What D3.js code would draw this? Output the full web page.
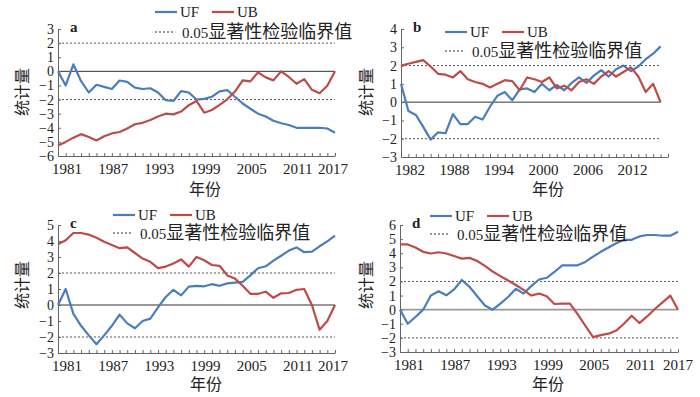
<!DOCTYPE html>
<html>
<head>
<meta charset="utf-8">
<script src="https://cdn.jsdelivr.net/npm/d3@7"></script>
<style>
  body { margin: 0; background: #fff; }
  svg { display: block; }
  text { font-family: "Liberation Serif", "Noto Sans CJK SC", serif; fill: #222; }
</style>
</head>
<body>
<div id="chart"></div>
<script>
// years on the x axis
const yearsA = d3.range(1981, 2018)
const yearsB = d3.range(1982, 2018)
const tickYears = [1981, 1987, 1993, 1999, 2005, 2011, 2017]
const tickYearsB = [1982, 1988, 1994, 2000, 2006, 2012]
const critValues = [2, -2]

// panel a
const ufA = [0, -1.0, 0.5, -0.7, -1.5, -0.95, -1.1, -1.25, -0.65, -0.75, -1.15, -1.25, -1.2, -1.5, -2.05, -2.1, -1.4, -1.5, -2.0,
  -1.95, -1.8, -1.42, -1.33, -1.8, -2.28, -2.65, -3.0, -3.2, -3.5, -3.68, -3.8, -4.0, -4.0, -4.0, -4.0, -4.05, -4.35]
const ubA = [-5.25, -5.0, -4.7, -4.45, -4.65, -4.9, -4.6, -4.4, -4.3, -4.05, -3.75, -3.65, -3.45, -3.2, -3.0, -3.05, -2.85, -2.4, -2.1,
  -2.93, -2.74, -2.38, -1.98, -1.43, -0.64, -0.71, -0.07, -0.43, -0.64, 0, -0.4, -0.88, -0.55, -1.31, -1.55, -1.02, 0]

// panel b (1982-2017)
const ufB = [1.0, -0.48, -0.7, -1.35, -2.05, -1.65, -1.7, -0.65, -1.2, -1.2, -0.8, -0.95, -0.25, 0.35, 0.55, 0.1, 0.7, 0.75,
  0.55, 1.0, 0.65, 0.95, 0.65, 1.05, 1.35, 1.05, 1.45, 1.75, 1.4, 1.8, 2.0, 1.7, 1.95, 2.35, 2.65, 3.05]
const ubB = [2.0, 2.1, 2.2, 2.3, 1.95, 1.55, 1.5, 1.35, 1.7, 1.25, 1.1, 1.0, 0.8, 1.0, 1.2, 1.15, 0.65, 1.35,
  1.25, 1.1, 1.35, 0.75, 0.9, 0.65, 1.1, 1.25, 1.0, 1.4, 1.7, 1.4, 1.65, 1.9, 1.4, 0.55, 1.0, 0.0]

// panel c
const ufC = [0, 1.0, -0.55, -1.3, -1.9, -2.45, -1.9, -1.3, -0.6, -1.15, -1.45, -1.0, -0.85, -0.15, 0.5, 0.95, 0.6, 1.15, 1.2,
  1.17, 1.3, 1.2, 1.35, 1.4, 1.45, 1.85, 2.3, 2.42, 2.77, 3.08, 3.4, 3.6, 3.3, 3.33, 3.67, 3.98, 4.33]
const ubC = [3.8, 4.05, 4.5, 4.5, 4.4, 4.2, 3.95, 3.75, 3.55, 3.6, 3.25, 2.9, 2.7, 2.3, 2.4, 2.6, 2.85, 2.4, 3.0,
  2.8, 2.5, 2.45, 1.85, 1.65, 1.2, 0.7, 0.7, 0.83, 0.45, 0.73, 0.75, 0.95, 1.0, 0, -1.55, -1.0, 0]

// panel d
const ufD = [0, -1.0, -0.52, 0.0, 1.0, 1.3, 1.02, 1.43, 2.1, 1.62, 0.95, 0.29, 0.0, 0.43, 0.9, 1.48, 1.14, 1.67, 2.14,
  2.26, 2.67, 3.14, 3.14, 3.14, 3.38, 3.76, 4.1, 4.4, 4.71, 4.95, 4.95, 5.19, 5.29, 5.29, 5.24, 5.24, 5.52]
const ubD = [4.62, 4.62, 4.4, 4.1, 3.98, 4.07, 3.98, 3.8, 3.62, 3.67, 3.45, 3.1, 2.7, 2.38, 2.07, 1.75, 1.4, 1.0, 1.14,
  0.95, 0.4, 0.43, 0.43, -0.31, -1.14, -1.95, -1.8, -1.7, -1.48, -1.0, -0.43, -0.95, -0.48, 0.05, 0.52, 1.0, 0]

const blue = '#4a7ebb'
const red = '#be4b48'
const axisColor = '#666'
const fmt = d => (d < 0 ? '\u2212' + Math.abs(d) : '' + d)

const panels = [
  { letter: 'a', years: yearsA, uf: ufA, ub: ubA, ticks: tickYears,
    xDomain: [1981, 2017], xRange: [58, 335], yDomain: [-6, 3], yRange: [156, 29],
    leg: { x: 155, y1: 12, y2: 32 }, ylab: [22, 92], xlab: [205, 195], labelMax: 333, zero: '#333' },
  { letter: 'b', years: yearsB, uf: ufB, ub: ubB, ticks: tickYearsB,
    xDomain: [1982, 2018], xRange: [401, 668], yDomain: [-3, 4], yRange: [157, 29],
    leg: { x: 445, y1: 32, y2: 51 }, ylab: [366, 92], xlab: [548, 195], labelMax: 690, zero: '#333' },
  { letter: 'c', years: yearsA, uf: ufC, ub: ubC, ticks: tickYears,
    xDomain: [1981, 2017], xRange: [58, 335], yDomain: [-3, 5], yRange: [353, 225],
    leg: { x: 113, y1: 215, y2: 233 }, ylab: [22, 285], xlab: [206, 390], labelMax: 333, zero: '#333' },
  { letter: 'd', years: yearsA, uf: ufD, ub: ubD, ticks: tickYears,
    xDomain: [1981, 2017], xRange: [400, 678], yDomain: [-3, 6], yRange: [352, 225],
    leg: { x: 430, y1: 216, y2: 234 }, ylab: [366, 285], xlab: [548, 390], labelMax: 678, zero: '#999' }
]

const svg = d3.select('#chart').append('svg')
  .attr('width', 700).attr('height', 397)
  .attr('viewBox', '0 0 700 397')

svg.append('rect').attr('width', 700).attr('height', 397).attr('fill', '#fff')

function drawPanel(p) {
  const x = d3.scaleLinear().domain(p.xDomain).range(p.xRange)
  const y = d3.scaleLinear().domain(p.yDomain).range(p.yRange)
  const g = svg.append('g').attr('class', 'panel-' + p.letter)
  const lastYear = p.years[p.years.length - 1]

  // critical value lines
  g.selectAll('.crit').data(critValues).enter().append('line')
    .attr('class', 'crit')
    .attr('x1', x.range()[0]).attr('x2', x(lastYear))
    .attr('y1', d => y(d)).attr('y2', d => y(d))
    .attr('stroke', '#555').attr('stroke-width', 1).attr('stroke-dasharray', '2,2')

  // zero line
  g.append('line')
    .attr('x1', x.range()[0]).attr('x2', x(lastYear))
    .attr('y1', y(0)).attr('y2', y(0))
    .attr('stroke', p.zero).attr('stroke-width', p.letter === 'd' ? 1.6 : 1)

  // y axis
  const yAxis = d3.axisLeft(y)
    .tickValues(d3.range(p.yDomain[0], p.yDomain[1] + 1))
    .tickFormat(fmt).tickSize(-3).tickSizeOuter(0).tickPadding(4)
  const gy = g.append('g').attr('transform', `translate(${x.range()[0]},0)`).call(yAxis)
  gy.selectAll('path, line').attr('stroke', axisColor)
  gy.selectAll('text').attr('font-size', 14).attr('fill', '#222')
    .attr('font-family', '"Liberation Serif", serif')

  // x axis
  const xAxis = d3.axisBottom(x)
    .tickValues(d3.range(p.xDomain[0], p.xDomain[1] + 1))
    .tickFormat('').tickSize(-3).tickSizeOuter(0)
  const gx = g.append('g').attr('transform', `translate(0,${y.range()[0]})`).call(xAxis)
  gx.selectAll('path, line').attr('stroke', axisColor)

  g.selectAll('.xlab').data(p.ticks).enter().append('text')
    .attr('class', 'xlab')
    .attr('x', d => Math.min(x(d) + 9, p.labelMax))
    .attr('y', y.range()[0] + 18)
    .attr('text-anchor', 'middle')
    .attr('font-size', 15)
    .text(d => d)

  // series
  const line = d3.line().x((d, i) => x(p.years[i])).y(d => y(d))
  g.append('path').datum(p.uf).attr('d', line)
    .attr('fill', 'none').attr('stroke', blue).attr('stroke-width', 2.2).attr('stroke-linejoin', 'round')
  g.append('path').datum(p.ub).attr('d', line)
    .attr('fill', 'none').attr('stroke', red).attr('stroke-width', 2.2).attr('stroke-linejoin', 'round')

  // panel letter
  g.append('text').attr('x', x.range()[0] + 12).attr('y', y.range()[1] + 3)
    .attr('font-size', 15).attr('font-weight', 'bold').text(p.letter)

  // legend
  const L = p.leg
  g.append('line').attr('x1', L.x).attr('x2', L.x + 22).attr('y1', L.y1).attr('y2', L.y1)
    .attr('stroke', blue).attr('stroke-width', 2.2)
  g.append('text').attr('x', L.x + 25).attr('y', L.y1 + 5).attr('font-size', 15).text('UF')
  g.append('line').attr('x1', L.x + 57).attr('x2', L.x + 79).attr('y1', L.y1).attr('y2', L.y1)
    .attr('stroke', red).attr('stroke-width', 2.2)
  g.append('text').attr('x', L.x + 82).attr('y', L.y1 + 5).attr('font-size', 15).text('UB')
  g.append('line').attr('x1', L.x).attr('x2', L.x + 20).attr('y1', L.y2).attr('y2', L.y2)
    .attr('stroke', '#333').attr('stroke-width', 1).attr('stroke-dasharray', '2,2')
  const t = g.append('text').attr('x', L.x + 27).attr('y', L.y2 + 6).attr('font-size', 15)
  t.append('tspan').text('0.05')
  t.append('tspan').attr('font-size', 18).text('显著性检验临界值')

  // axis titles
  g.append('text')
    .attr('transform', `translate(${p.ylab[0]},${p.ylab[1]}) rotate(-90)`)
    .attr('text-anchor', 'middle').attr('dominant-baseline', 'central')
    .attr('font-size', 16).text('统计量')
  g.append('text').attr('x', p.xlab[0]).attr('y', p.xlab[1])
    .attr('text-anchor', 'middle').attr('font-size', 16).text('年份')
}

panels.forEach(drawPanel)
</script>
</body>
</html>
